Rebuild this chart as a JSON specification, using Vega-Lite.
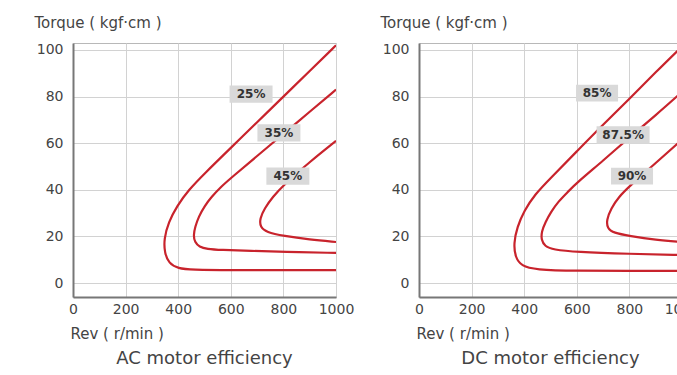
{
  "$schema": "https://vega.github.io/schema/vega-lite/v6.json",
  "padding": {"left": 33, "top": 14, "right": 0, "bottom": 0},
  "background": "white",
  "bounds": "flush",
  "spacing": 83,
  "config": {
    "font": "DejaVu Sans",
    "view": {"stroke": "#b8b8b8", "strokeWidth": 1},
    "axis": {
      "ticks": false,
      "domainColor": "#777777",
      "domainWidth": 2,
      "labelFontSize": 14,
      "labelColor": "#444444",
      "labelOverlap": false,
      "labelFlush": false,
      "titleFontSize": 14,
      "titleFontWeight": "normal",
      "titleColor": "#444444"
    }
  },
  "datasets": {
    "curves": [
      {"panel": "AC", "curve": "c1", "i": 1, "rev": 1000, "torque": 102},
      {"panel": "AC", "curve": "c1", "i": 2, "rev": 900, "torque": 91},
      {"panel": "AC", "curve": "c1", "i": 3, "rev": 800, "torque": 80},
      {"panel": "AC", "curve": "c1", "i": 4, "rev": 700, "torque": 69},
      {"panel": "AC", "curve": "c1", "i": 5, "rev": 600, "torque": 58},
      {"panel": "AC", "curve": "c1", "i": 6, "rev": 500, "torque": 47},
      {"panel": "AC", "curve": "c1", "i": 7, "rev": 440, "torque": 40},
      {"panel": "AC", "curve": "c1", "i": 8, "rev": 395, "torque": 33},
      {"panel": "AC", "curve": "c1", "i": 9, "rev": 363, "torque": 26},
      {"panel": "AC", "curve": "c1", "i": 10, "rev": 346, "torque": 19},
      {"panel": "AC", "curve": "c1", "i": 11, "rev": 348, "torque": 13},
      {"panel": "AC", "curve": "c1", "i": 12, "rev": 364, "torque": 8.5},
      {"panel": "AC", "curve": "c1", "i": 13, "rev": 400, "torque": 6.2},
      {"panel": "AC", "curve": "c1", "i": 14, "rev": 450, "torque": 5.7},
      {"panel": "AC", "curve": "c1", "i": 15, "rev": 600, "torque": 5.5},
      {"panel": "AC", "curve": "c1", "i": 16, "rev": 800, "torque": 5.5},
      {"panel": "AC", "curve": "c1", "i": 17, "rev": 1000, "torque": 5.5},
      {"panel": "AC", "curve": "c2", "i": 1, "rev": 1000, "torque": 83},
      {"panel": "AC", "curve": "c2", "i": 2, "rev": 900, "torque": 73.5},
      {"panel": "AC", "curve": "c2", "i": 3, "rev": 800, "torque": 64},
      {"panel": "AC", "curve": "c2", "i": 4, "rev": 700, "torque": 54.5},
      {"panel": "AC", "curve": "c2", "i": 5, "rev": 600, "torque": 45},
      {"panel": "AC", "curve": "c2", "i": 6, "rev": 560, "torque": 41},
      {"panel": "AC", "curve": "c2", "i": 7, "rev": 527, "torque": 37},
      {"panel": "AC", "curve": "c2", "i": 8, "rev": 500, "torque": 33},
      {"panel": "AC", "curve": "c2", "i": 9, "rev": 478, "torque": 28.5},
      {"panel": "AC", "curve": "c2", "i": 10, "rev": 464, "torque": 24},
      {"panel": "AC", "curve": "c2", "i": 11, "rev": 458, "torque": 20.5},
      {"panel": "AC", "curve": "c2", "i": 12, "rev": 463, "torque": 17.5},
      {"panel": "AC", "curve": "c2", "i": 13, "rev": 480, "torque": 15.5},
      {"panel": "AC", "curve": "c2", "i": 14, "rev": 510, "torque": 14.6},
      {"panel": "AC", "curve": "c2", "i": 15, "rev": 560, "torque": 14.2},
      {"panel": "AC", "curve": "c2", "i": 16, "rev": 677, "torque": 13.8},
      {"panel": "AC", "curve": "c2", "i": 17, "rev": 800, "torque": 13.4},
      {"panel": "AC", "curve": "c2", "i": 18, "rev": 1000, "torque": 12.9},
      {"panel": "AC", "curve": "c3", "i": 1, "rev": 1000, "torque": 61},
      {"panel": "AC", "curve": "c3", "i": 2, "rev": 900, "torque": 52},
      {"panel": "AC", "curve": "c3", "i": 3, "rev": 800, "torque": 42},
      {"panel": "AC", "curve": "c3", "i": 4, "rev": 760, "torque": 37},
      {"panel": "AC", "curve": "c3", "i": 5, "rev": 728, "torque": 32},
      {"panel": "AC", "curve": "c3", "i": 6, "rev": 710, "torque": 27.5},
      {"panel": "AC", "curve": "c3", "i": 7, "rev": 712, "torque": 24},
      {"panel": "AC", "curve": "c3", "i": 8, "rev": 735, "torque": 21.8},
      {"panel": "AC", "curve": "c3", "i": 9, "rev": 800, "torque": 20.2},
      {"panel": "AC", "curve": "c3", "i": 10, "rev": 900, "torque": 18.6},
      {"panel": "AC", "curve": "c3", "i": 11, "rev": 1000, "torque": 17.6},
      {"panel": "DC", "curve": "c1", "i": 1, "rev": 1000, "torque": 101.5},
      {"panel": "DC", "curve": "c1", "i": 2, "rev": 900, "torque": 90.5},
      {"panel": "DC", "curve": "c1", "i": 3, "rev": 800, "torque": 79},
      {"panel": "DC", "curve": "c1", "i": 4, "rev": 700, "torque": 68},
      {"panel": "DC", "curve": "c1", "i": 5, "rev": 600, "torque": 56.5},
      {"panel": "DC", "curve": "c1", "i": 6, "rev": 500, "torque": 45},
      {"panel": "DC", "curve": "c1", "i": 7, "rev": 440, "torque": 38},
      {"panel": "DC", "curve": "c1", "i": 8, "rev": 400, "torque": 31},
      {"panel": "DC", "curve": "c1", "i": 9, "rev": 373, "torque": 24},
      {"panel": "DC", "curve": "c1", "i": 10, "rev": 360, "torque": 17},
      {"panel": "DC", "curve": "c1", "i": 11, "rev": 366, "torque": 11},
      {"panel": "DC", "curve": "c1", "i": 12, "rev": 390, "torque": 7.3},
      {"panel": "DC", "curve": "c1", "i": 13, "rev": 440, "torque": 5.7},
      {"panel": "DC", "curve": "c1", "i": 14, "rev": 600, "torque": 5.2},
      {"panel": "DC", "curve": "c1", "i": 15, "rev": 800, "torque": 5.2},
      {"panel": "DC", "curve": "c1", "i": 16, "rev": 1000, "torque": 5.2},
      {"panel": "DC", "curve": "c2", "i": 1, "rev": 1000, "torque": 82},
      {"panel": "DC", "curve": "c2", "i": 2, "rev": 900, "torque": 72},
      {"panel": "DC", "curve": "c2", "i": 3, "rev": 800, "torque": 62.5},
      {"panel": "DC", "curve": "c2", "i": 4, "rev": 700, "torque": 52.5},
      {"panel": "DC", "curve": "c2", "i": 5, "rev": 600, "torque": 43},
      {"panel": "DC", "curve": "c2", "i": 6, "rev": 565, "torque": 39},
      {"panel": "DC", "curve": "c2", "i": 7, "rev": 530, "torque": 35},
      {"panel": "DC", "curve": "c2", "i": 8, "rev": 502, "torque": 30.5},
      {"panel": "DC", "curve": "c2", "i": 9, "rev": 480, "torque": 26},
      {"panel": "DC", "curve": "c2", "i": 10, "rev": 466, "torque": 22},
      {"panel": "DC", "curve": "c2", "i": 11, "rev": 465, "torque": 18.5},
      {"panel": "DC", "curve": "c2", "i": 12, "rev": 478, "torque": 15.8},
      {"panel": "DC", "curve": "c2", "i": 13, "rev": 510, "torque": 14.3},
      {"panel": "DC", "curve": "c2", "i": 14, "rev": 596, "torque": 13.3},
      {"panel": "DC", "curve": "c2", "i": 15, "rev": 800, "torque": 12.5},
      {"panel": "DC", "curve": "c2", "i": 16, "rev": 1000, "torque": 12},
      {"panel": "DC", "curve": "c3", "i": 1, "rev": 1000, "torque": 61.5},
      {"panel": "DC", "curve": "c3", "i": 2, "rev": 900, "torque": 51.5},
      {"panel": "DC", "curve": "c3", "i": 3, "rev": 800, "torque": 41.5},
      {"panel": "DC", "curve": "c3", "i": 4, "rev": 760, "torque": 37},
      {"panel": "DC", "curve": "c3", "i": 5, "rev": 730, "torque": 32},
      {"panel": "DC", "curve": "c3", "i": 6, "rev": 713, "torque": 27},
      {"panel": "DC", "curve": "c3", "i": 7, "rev": 716, "torque": 23.5},
      {"panel": "DC", "curve": "c3", "i": 8, "rev": 740, "torque": 21.5},
      {"panel": "DC", "curve": "c3", "i": 9, "rev": 800, "torque": 20.2},
      {"panel": "DC", "curve": "c3", "i": 10, "rev": 900, "torque": 18.5},
      {"panel": "DC", "curve": "c3", "i": 11, "rev": 1000, "torque": 17.6}
    ],
    "labels": [
      {"panel": "AC", "label": "25%", "rev": 677, "torque": 81.1},
      {"panel": "AC", "label": "35%", "rev": 783, "torque": 64.4},
      {"panel": "AC", "label": "45%", "rev": 817, "torque": 45.9},
      {"panel": "DC", "label": "85%", "rev": 677, "torque": 81.5},
      {"panel": "DC", "label": "87.5%", "rev": 776, "torque": 63.5},
      {"panel": "DC", "label": "90%", "rev": 810, "torque": 45.9}
    ]
  },
  "hconcat": [
    {
      "width": 263,
      "height": 254,
      "title": {"text": "AC motor efficiency", "orient": "bottom", "anchor": "middle", "fontSize": 18, "fontWeight": "normal", "color": "#444444", "offset": 9},
      "layer": [
        {
          "data": {"name": "curves"},
          "transform": [{"filter": "datum.panel === 'AC'"}],
          "mark": {"type": "line", "interpolate": "basis", "color": "#c8232c", "strokeWidth": 2.2, "clip": true},
          "encoding": {
            "x": {"field": "rev", "type": "quantitative", "scale": {"domain": [0, 1000], "nice": false, "zero": false},
              "axis": {"title": "Rev ( r/min )", "format": "d", "values": [0, 100, 200, 300, 400, 500, 600, 700, 800, 900, 1000],
                "labelExpr": "datum.value % 200 === 0 ? datum.label : ''",
                "gridColor": {"condition": {"test": "datum.value % 200 === 0", "value": "#d2d2d2"}, "value": "#e6e6e6"},
                "labelPadding": 5, "titleAnchor": "start", "titleAlign": "left", "titleBaseline": "middle", "titleX": -3, "titleY": 36, "titleFontSize": 15}},
            "y": {"field": "torque", "type": "quantitative", "scale": {"domain": [-6, 103], "nice": false, "zero": false},
              "axis": {"title": "Torque ( kgf·cm )", "values": [0, 10, 20, 30, 40, 50, 60, 70, 80, 90, 100],
                "labelExpr": "datum.value % 20 === 0 ? datum.label : ''",
                "gridColor": {"condition": {"test": "datum.value % 20 === 0", "value": "#d2d2d2"}, "value": "#e6e6e6"},
                "labelPadding": 10, "titleAngle": 0, "titleAlign": "left", "titleBaseline": "middle", "titleX": -39, "titleY": -21, "titleFontSize": 15}},
            "detail": {"field": "curve"},
            "order": {"field": "i", "type": "quantitative"}
          }
        },
        {
          "data": {"name": "labels"},
          "transform": [{"filter": "datum.panel === 'AC'"}],
          "mark": {"type": "point", "filled": true, "color": "#d9d9d9", "opacity": 1, "shape": "M-1,-0.4H1V0.4H-1Z", "size": 1849},
          "encoding": {
            "x": {"field": "rev", "type": "quantitative"},
            "y": {"field": "torque", "type": "quantitative"}
          }
        },
        {
          "data": {"name": "labels"},
          "transform": [{"filter": "datum.panel === 'AC'"}],
          "mark": {"type": "text", "fontSize": 12, "fontWeight": 600, "color": "#333333"},
          "encoding": {
            "x": {"field": "rev", "type": "quantitative"},
            "y": {"field": "torque", "type": "quantitative"},
            "text": {"field": "label"}
          }
        }
      ]
    },
    {
      "width": 263,
      "height": 254,
      "title": {"text": "DC motor efficiency", "orient": "bottom", "anchor": "middle", "fontSize": 18, "fontWeight": "normal", "color": "#444444", "offset": 9},
      "layer": [
        {
          "data": {"name": "curves"},
          "transform": [{"filter": "datum.panel === 'DC'"}],
          "mark": {"type": "line", "interpolate": "basis", "color": "#c8232c", "strokeWidth": 2.2, "clip": true},
          "encoding": {
            "x": {"field": "rev", "type": "quantitative", "scale": {"domain": [0, 1000], "nice": false, "zero": false},
              "axis": {"title": "Rev ( r/min )", "format": "d", "values": [0, 100, 200, 300, 400, 500, 600, 700, 800, 900, 1000],
                "labelExpr": "datum.value % 200 === 0 ? datum.label : ''",
                "gridColor": {"condition": {"test": "datum.value % 200 === 0", "value": "#d2d2d2"}, "value": "#e6e6e6"},
                "labelPadding": 5, "titleAnchor": "start", "titleAlign": "left", "titleBaseline": "middle", "titleX": -3, "titleY": 36, "titleFontSize": 15}},
            "y": {"field": "torque", "type": "quantitative", "scale": {"domain": [-6, 103], "nice": false, "zero": false},
              "axis": {"title": "Torque ( kgf·cm )", "values": [0, 10, 20, 30, 40, 50, 60, 70, 80, 90, 100],
                "labelExpr": "datum.value % 20 === 0 ? datum.label : ''",
                "gridColor": {"condition": {"test": "datum.value % 20 === 0", "value": "#d2d2d2"}, "value": "#e6e6e6"},
                "labelPadding": 10, "titleAngle": 0, "titleAlign": "left", "titleBaseline": "middle", "titleX": -39, "titleY": -21, "titleFontSize": 15}},
            "detail": {"field": "curve"},
            "order": {"field": "i", "type": "quantitative"}
          }
        },
        {
          "data": {"name": "labels"},
          "transform": [{"filter": "datum.panel === 'DC'"}],
          "mark": {"type": "point", "filled": true, "color": "#d9d9d9", "opacity": 1},
          "encoding": {
            "x": {"field": "rev", "type": "quantitative"},
            "y": {"field": "torque", "type": "quantitative"},
            "shape": {"condition": {"test": "length(datum.label) > 3", "value": "M-1,-0.33H1V0.33H-1Z"}, "value": "M-1,-0.4H1V0.4H-1Z"},
            "size": {"condition": {"test": "length(datum.label) > 3", "value": 2809}, "value": 1764}
          }
        },
        {
          "data": {"name": "labels"},
          "transform": [{"filter": "datum.panel === 'DC'"}],
          "mark": {"type": "text", "fontSize": 12, "fontWeight": 600, "color": "#333333"},
          "encoding": {
            "x": {"field": "rev", "type": "quantitative"},
            "y": {"field": "torque", "type": "quantitative"},
            "text": {"field": "label"}
          }
        }
      ]
    }
  ]
}
